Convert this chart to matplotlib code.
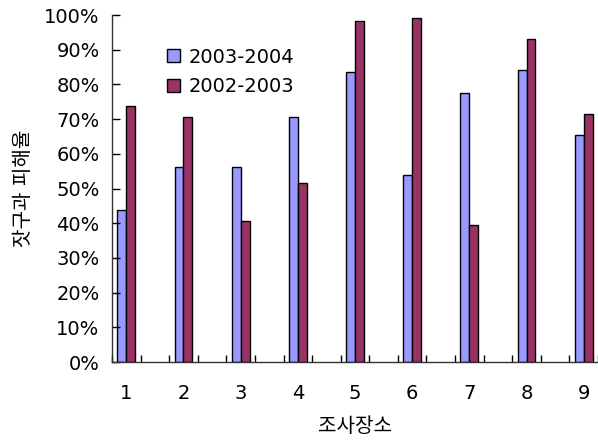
import matplotlib
matplotlib.use("Agg")
from matplotlib import pyplot as plt
import numpy as np

plt.rcParams['font.family'] = ['DejaVu Sans', 'Noto Sans CJK KR']

sites = [1, 2, 3, 4, 5, 6, 7, 8, 9]
damage_0304 = [43.7, 56.3, 56.3, 70.5, 83.6, 54.0, 77.5, 84.1, 65.5]
damage_0203 = [73.7, 70.5, 40.6, 51.6, 98.3, 99.2, 39.6, 93.2, 71.5]
series_names = ["2003-2004", "2002-2003"]

x = np.array(sites, dtype=float)
w = 0.155

fig = plt.figure(figsize=(5.98, 4.41), dpi=100)
ax = fig.add_axes([0.1873, 0.1791, 0.8127, 0.7868])

ax.bar(x - w / 2, damage_0304, width=w, color='#9999ff', edgecolor='black', linewidth=1.0, label=series_names[0])
ax.bar(x + w / 2, damage_0203, width=w, color='#993366', edgecolor='black', linewidth=1.0, label=series_names[1])

ax.set_xlim(0.757, 9.2)
ax.set_ylim(0, 100)
ax.set_yticks(np.arange(0, 101, 10))
ax.set_yticklabels([f"{v}%" for v in range(0, 101, 10)], fontsize=14)
ax.set_xticks(sites)
ax.set_xticklabels([str(s) for s in sites], fontsize=14)
ax.set_xticks(np.concatenate([x - 0.25, x + 0.25]), minor=True)
ax.tick_params(axis='x', which='major', length=0, pad=16)
ax.tick_params(axis='x', which='minor', direction='in', length=5, width=1)
ax.tick_params(axis='y', direction='in', length=6, width=1, pad=9)

for s in ['top', 'right']:
    ax.spines[s].set_visible(False)
for s in ['left', 'bottom']:
    ax.spines[s].set_linewidth(1.0)
    ax.spines[s].set_color('#333333')

ax.set_xlabel("조사장소", fontsize=14.5, labelpad=10)
ax.set_ylabel("잣구과 피해율", fontsize=14.5, labelpad=8)

ax.legend(loc='upper left', bbox_to_anchor=(0.085, 0.945), frameon=False, fontsize=14,
          handlelength=0.65, handleheight=0.65, handletextpad=0.45, labelspacing=0.55,
          borderpad=0.2)

fig.savefig("out.png", dpi=100)
